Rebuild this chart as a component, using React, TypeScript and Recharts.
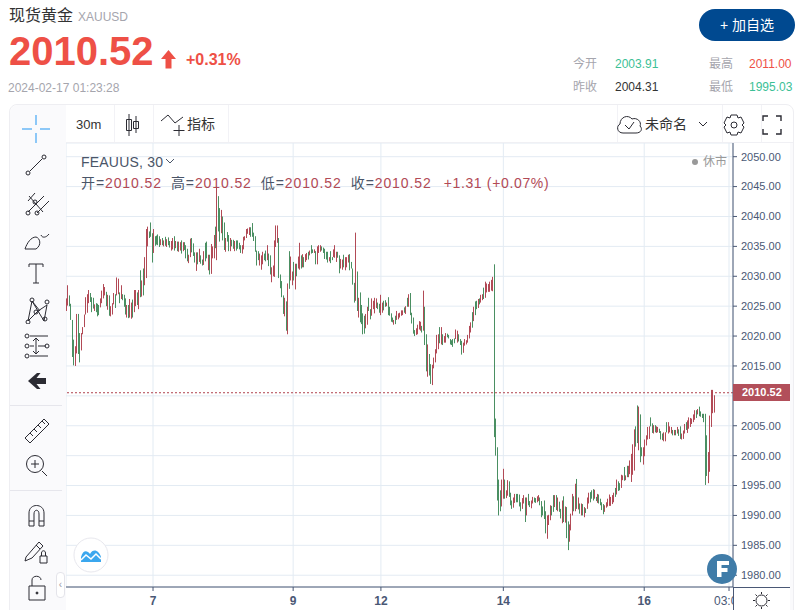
import { Bar, CartesianGrid, ComposedChart, ReferenceLine, XAxis, YAxis } from "recharts";

type Candle = [number, number, string]; // high, low, r = up / g = down

// 30m bars
const feb6to8: Candle[] = [
  [2026.3,2024.2,"r"],[2028.5,2025.1,"r"],[2026.8,2025.0,"g"],[2025.4,2022.7,"g"],[2022.7,2016.5,"g"],[2019.4,2015.1,"g"],[2018.3,2015.0,"r"],[2023.7,2017.1,"r"],
  [2023.7,2017.0,"g"],[2020.5,2015.6,"g"],[2020.5,2017.6,"r"],[2021.5,2020.3,"r"],[2023.6,2021.5,"r"],[2026.5,2023.6,"r"],[2027.0,2023.9,"r"],[2027.7,2025.5,"r"],
  [2027.2,2025.7,"g"],[2026.5,2024.0,"g"],[2026.4,2024.6,"g"],[2025.3,2024.2,"r"],[2025.5,2024.0,"g"],[2025.4,2023.3,"g"],[2025.2,2023.5,"g"],[2026.3,2024.8,"r"],
  [2027.6,2025.5,"r"],[2028.7,2026.3,"r"],[2028.2,2026.8,"r"],[2027.4,2025.0,"g"],[2026.9,2024.4,"r"],[2026.8,2023.4,"g"],[2025.0,2023.3,"r"],[2025.5,2023.6,"r"],
  [2027.2,2025.3,"r"],[2027.0,2024.7,"g"],[2029.8,2026.8,"r"],[2029.6,2027.0,"r"],[2027.3,2025.5,"g"],[2028.5,2026.2,"r"],[2027.0,2026.0,"g"],[2026.9,2024.9,"g"],
  [2026.3,2023.6,"g"],[2025.2,2023.1,"r"],[2025.2,2023.0,"g"],[2026.2,2023.1,"r"],[2025.6,2022.9,"r"],[2026.1,2023.1,"g"],[2027.7,2024.0,"r"],[2027.7,2025.0,"r"],
  [2027.3,2025.2,"g"],[2027.7,2024.5,"r"],[2031.0,2026.5,"g"],[2029.3,2026.6,"r"],[2031.3,2026.8,"g"],[2033.2,2028.5,"r"],[2037.9,2029.7,"r"],[2038.3,2035.0,"r"],
  [2037.5,2036.4,"g"],[2039.0,2036.6,"g"],[2037.2,2032.3,"g"],[2037.9,2033.9,"r"],[2036.7,2035.1,"g"],[2036.8,2035.3,"g"],[2037.0,2035.2,"g"],[2036.7,2034.9,"g"],
  [2036.2,2035.2,"r"],[2036.4,2035.2,"g"],[2036.0,2035.0,"r"],[2036.6,2035.1,"g"],[2036.2,2034.9,"r"],[2036.5,2035.2,"g"],[2035.9,2034.8,"g"],[2035.9,2034.3,"r"],
  [2036.4,2034.5,"r"],[2036.7,2034.3,"g"],[2035.9,2034.7,"r"],[2035.8,2034.2,"g"],[2035.8,2034.1,"r"],[2035.7,2034.3,"r"],[2036.0,2033.8,"g"],[2035.7,2034.2,"r"],
  [2035.7,2034.4,"g"],[2035.2,2033.0,"g"],[2034.6,2032.5,"g"],[2033.6,2032.2,"r"],[2036.3,2033.2,"r"],[2036.4,2034.0,"g"],[2035.5,2033.4,"g"],[2034.0,2032.3,"g"],
  [2034.0,2030.9,"r"],[2034.0,2032.0,"g"],[2034.6,2032.4,"r"],[2033.5,2032.1,"g"],[2032.8,2031.8,"g"],[2034.2,2031.9,"r"],[2035.6,2032.5,"g"],[2035.8,2033.0,"g"],
  [2033.6,2031.0,"r"],[2033.6,2030.3,"g"],[2035.4,2030.4,"r"],[2035.0,2033.0,"r"],[2036.9,2033.0,"r"],[2038.3,2034.7,"g"],[2045.0,2032.7,"r"],[2043.4,2037.5,"g"],
  [2041.4,2035.8,"g"],[2041.1,2037.2,"r"],[2040.0,2036.0,"g"],[2039.0,2034.4,"g"],[2036.4,2034.1,"r"],[2037.4,2035.8,"g"],[2036.9,2034.2,"g"],[2036.4,2034.2,"r"],
  [2036.1,2035.0,"g"],[2036.1,2034.6,"g"],
];

const feb8to12: Candle[] = [
  [2035.9,2034.2,"r"],[2036.0,2034.3,"g"],[2036.0,2034.6,"g"],[2035.6,2034.5,"g"],[2035.2,2033.9,"g"],[2035.2,2033.8,"r"],[2036.6,2034.5,"r"],[2036.7,2036.0,"r"],
  [2037.9,2036.4,"r"],[2038.0,2037.1,"r"],[2038.2,2036.9,"r"],[2038.2,2036.6,"g"],[2038.9,2036.6,"g"],[2037.3,2035.9,"g"],[2036.7,2034.1,"g"],[2034.3,2031.8,"g"],
  [2034.2,2032.7,"g"],[2033.8,2031.8,"r"],[2033.5,2031.1,"r"],[2034.1,2032.0,"r"],[2033.8,2032.7,"g"],[2034.3,2032.5,"g"],[2035.2,2032.7,"r"],[2033.8,2031.7,"g"],
  [2033.5,2030.3,"g"],[2031.5,2029.0,"r"],[2031.8,2030.0,"r"],[2036.0,2029.9,"r"],[2038.5,2034.9,"r"],[2038.5,2035.6,"r"],[2036.4,2029.7,"g"],[2030.3,2028.0,"g"],
  [2029.2,2026.5,"g"],[2026.8,2023.7,"g"],[2026.4,2023.3,"r"],[2025.8,2020.9,"g"],[2028.8,2020.3,"r"],[2034.2,2027.9,"g"],[2033.3,2029.3,"r"],[2030.8,2028.5,"r"],
  [2032.4,2029.3,"g"],[2032.1,2027.8,"r"],[2032.1,2030.0,"g"],[2033.3,2031.3,"r"],[2035.6,2031.1,"r"],[2033.5,2031.3,"g"],[2033.7,2031.5,"r"],[2033.2,2031.5,"g"],
  [2033.7,2032.4,"r"],[2033.9,2032.7,"r"],[2034.1,2032.8,"g"],[2034.3,2033.5,"r"],[2035.2,2033.8,"g"],[2034.5,2033.9,"g"],[2034.5,2033.9,"r"],[2034.2,2032.0,"g"],
  [2035.0,2032.0,"r"],[2035.2,2033.9,"r"],[2035.2,2034.1,"r"],[2035.0,2034.3,"g"],[2034.8,2033.9,"g"],[2034.6,2032.9,"g"],[2034.1,2032.8,"g"],[2034.1,2032.3,"g"],
  [2033.2,2032.5,"r"],[2034.2,2032.2,"g"],[2033.2,2032.7,"g"],[2034.5,2033.2,"r"],[2035.2,2033.1,"r"],[2034.1,2032.4,"r"],[2034.1,2033.1,"g"],[2033.5,2030.5,"g"],
  [2032.9,2031.3,"r"],[2032.8,2031.1,"r"],[2033.6,2031.5,"g"],[2033.2,2031.0,"r"],[2033.2,2031.5,"r"],[2033.6,2032.3,"r"],[2033.7,2031.0,"g"],[2032.4,2031.3,"g"],
  [2031.3,2028.6,"g"],
];

const feb12to13: Candle[] = [
  [2028.9,2025.6,"g"],[2037.3,2025.9,"r"],[2030.8,2024.2,"g"],[2026.4,2023.1,"r"],[2027.3,2022.3,"g"],[2025.2,2022.0,"g"],[2023.8,2020.3,"g"],[2023.4,2020.4,"g"],
  [2023.7,2021.3,"r"],[2024.9,2021.9,"r"],[2026.4,2024.2,"g"],[2024.5,2022.8,"g"],[2026.3,2023.4,"r"],[2025.9,2024.5,"r"],[2026.4,2023.8,"r"],[2026.3,2024.7,"r"],
  [2025.6,2024.5,"g"],[2025.4,2023.9,"g"],[2026.9,2023.5,"r"],[2025.6,2023.9,"r"],[2025.9,2024.3,"g"],[2026.0,2024.9,"g"],[2025.6,2025.0,"r"],[2026.5,2023.5,"g"],
  [2024.9,2023.4,"g"],[2023.8,2022.4,"g"],[2023.1,2022.3,"g"],[2022.7,2021.9,"r"],[2023.4,2022.0,"g"],[2024.2,2022.7,"r"],[2023.8,2022.8,"r"],[2023.9,2023.1,"r"],
  [2024.3,2023.4,"r"],[2024.3,2023.5,"r"],[2024.8,2023.9,"g"],[2025.0,2023.7,"r"],[2026.4,2024.9,"g"],[2027.0,2024.9,"r"],[2027.2,2023.5,"g"],[2023.9,2022.1,"g"],
  [2023.1,2020.4,"g"],[2021.0,2020.0,"g"],[2021.3,2020.2,"r"],[2021.9,2020.3,"r"],[2022.5,2021.1,"r"],[2022.4,2020.9,"r"],[2021.7,2020.6,"g"],[2027.6,2020.9,"r"],
  [2024.9,2018.5,"g"],[2020.3,2014.1,"g"],[2018.6,2013.2,"r"],[2017.0,2013.4,"g"],[2015.3,2012.0,"g"],[2015.2,2011.8,"r"],[2016.4,2014.6,"r"],[2017.8,2015.6,"r"],
  [2020.2,2017.1,"r"],[2020.3,2017.8,"r"],[2021.5,2018.8,"g"],[2021.5,2018.6,"r"],[2020.3,2018.5,"g"],[2020.0,2018.9,"r"],[2020.5,2018.9,"r"],[2020.4,2019.8,"g"],
  [2020.2,2019.6,"g"],[2019.5,2018.6,"g"],[2019.3,2018.5,"g"],[2019.5,2018.2,"g"],[2019.6,2018.8,"g"],[2021.1,2019.5,"r"],[2020.9,2018.9,"r"],[2020.3,2019.1,"g"],
  [2019.5,2018.5,"g"],[2019.2,2016.9,"g"],[2018.9,2017.2,"r"],[2019.5,2018.4,"r"],[2019.3,2018.6,"r"],[2020.2,2018.9,"r"],[2021.7,2019.6,"r"],[2022.3,2020.6,"r"],
  [2024.0,2021.4,"g"],[2024.9,2022.5,"r"],[2025.8,2023.5,"g"],[2025.9,2024.5,"g"],[2026.2,2024.7,"r"],[2026.3,2025.3,"g"],[2026.9,2025.6,"r"],[2027.0,2026.0,"r"],
  [2028.1,2026.2,"g"],[2029.1,2026.4,"r"],[2028.8,2027.3,"r"],[2028.7,2027.4,"r"],[2029.1,2027.4,"r"],[2029.4,2027.6,"r"],[2029.9,2027.5,"r"],[2032.0,2003.1,"g"],
];

const feb13to15: Candle[] = [
  [2006.2,2000.0,"g"],[2001.4,1992.5,"g"],[1996.0,1990.0,"g"],[1994.2,1990.7,"g"],[1996.0,1991.5,"r"],[1997.8,1992.8,"r"],[1996.0,1992.8,"g"],[1994.2,1992.9,"r"],
  [1995.9,1993.3,"r"],[1995.7,1993.1,"g"],[1993.8,1991.7,"g"],[1992.5,1991.1,"g"],[1993.0,1991.3,"r"],[1993.6,1992.1,"r"],[1993.6,1992.2,"g"],[1993.6,1992.2,"g"],
  [1993.5,1991.5,"g"],[1992.2,1990.7,"g"],[1992.9,1991.1,"r"],[1993.4,1992.0,"r"],[1993.0,1988.9,"g"],[1993.0,1990.0,"r"],[1993.6,1991.7,"g"],[1992.4,1991.4,"g"],
  [1992.5,1991.2,"r"],[1993.1,1992.0,"r"],[1993.0,1992.2,"g"],[1992.9,1992.1,"g"],[1993.2,1992.2,"r"],[1993.4,1992.4,"r"],[1993.0,1991.7,"g"],[1992.4,1989.7,"g"],
  [1991.5,1990.0,"g"],[1992.5,1989.4,"g"],[1990.7,1987.0,"g"],[1990.0,1986.1,"r"],[1990.1,1988.4,"r"],[1991.7,1989.2,"r"],[1991.6,1990.0,"g"],[1993.4,1990.6,"g"],
  [1993.4,1991.4,"r"],[1993.4,1990.9,"g"],[1993.0,1990.7,"r"],[1992.3,1990.6,"g"],[1991.1,1989.5,"g"],[1992.5,1988.7,"r"],[1993.2,1988.9,"g"],[1991.5,1988.8,"r"],[1991.4,1986.2,"g"],
  [1989.0,1984.2,"g"],[1988.5,1985.6,"r"],[1990.3,1987.5,"r"],[1993.6,1990.0,"r"],[1993.2,1990.7,"g"],[1995.3,1990.7,"r"],[1996.1,1991.1,"g"],[1993.0,1991.0,"r"],
  [1992.0,1990.3,"g"],[1992.0,1990.0,"r"],[1991.9,1990.0,"g"],[1991.4,1989.7,"r"],[1991.2,1990.4,"g"],[1993.0,1991.1,"r"],[1993.8,1992.0,"r"],[1993.9,1992.2,"g"],
  [1994.2,1992.8,"g"],[1994.4,1992.5,"g"],[1994.3,1992.8,"r"],[1993.1,1992.4,"g"],[1993.6,1992.1,"r"],[1993.5,1992.0,"g"],[1992.8,1991.7,"g"],[1992.2,1990.9,"g"],[1991.9,1990.2,"g"],
  [1991.7,1990.6,"r"],[1992.2,1991.3,"r"],[1992.8,1991.5,"r"],[1993.5,1991.6,"r"],[1993.1,1991.6,"r"],[1993.4,1991.9,"r"],[1993.8,1992.2,"r"],[1994.6,1993.1,"g"],[1996.0,1993.5,"r"],
  [1995.7,1994.1,"g"],[1995.4,1994.2,"g"],[1996.8,1994.6,"r"],[1996.7,1995.9,"r"],[1998.1,1995.8,"g"],[1996.7,1995.9,"r"],[1998.3,1996.4,"g"],[1998.3,1996.4,"r"],
  [1999.2,1996.9,"r"],[2000.3,1995.6,"r"],[2001.9,1996.8,"r"],[2004.4,1997.5,"r"],[2004.9,2001.5,"g"],[2008.4,2002.1,"g"],
];

const feb16: Candle[] = [
  [2008.2,2000.9,"r"],[2006.9,1998.9,"g"],[2001.4,1999.9,"g"],[2001.4,1998.5,"r"],[2002.7,1999.9,"r"],[2003.4,2001.7,"r"],[2004.8,2002.7,"r"],[2004.9,2002.8,"r"],
  [2006.4,2004.9,"g"],[2005.4,2003.8,"g"],[2005.1,2003.7,"r"],[2005.1,2003.9,"g"],[2004.9,2003.8,"r"],[2004.8,2003.9,"r"],[2004.5,2003.8,"g"],[2004.1,2002.7,"g"],
  [2003.7,2002.6,"g"],[2003.9,2002.4,"r"],[2003.9,2002.4,"r"],[2005.6,2003.9,"g"],[2005.6,2003.7,"r"],[2004.9,2003.9,"r"],[2004.8,2003.7,"r"],[2004.3,2003.4,"g"],
  [2004.3,2003.4,"r"],[2004.3,2003.4,"g"],[2004.8,2003.7,"r"],[2004.4,2003.3,"g"],[2004.9,2002.8,"g"],[2003.7,2002.7,"r"],[2004.2,2002.8,"r"],[2005.3,2003.7,"r"],[2005.6,2004.3,"g"],
  [2005.9,2003.8,"r"],[2006.4,2004.5,"r"],[2006.3,2004.8,"r"],[2006.2,2005.3,"r"],[2006.9,2005.6,"r"],[2007.6,2006.0,"r"],[2007.6,2006.3,"g"],[2007.8,2006.9,"r"],[2008.2,2006.6,"g"],
  [2007.4,2006.5,"g"],[2007.0,2006.3,"g"],[2007.0,2005.6,"g"],[2007.0,1995.1,"g"],[2003.4,1996.6,"g"],[2000.6,1995.4,"r"],[2006.7,1997.3,"r"],[2011.0,2004.8,"r"],[2011.0,2007.1,"r"],
  [2010.1,2007.2,"r"],
];

const priceTicks = [1980, 1985, 1990, 1995, 2000, 2005, 2010, 2015, 2020, 2025, 2030, 2035, 2040, 2045, 2050];
const timeTicks = [58.5, 153.5, 213, 296, 391.5, 449];
const timeLabels = ["7", "9", "12", "14", "16", "03:00"];
const lastPrice = 2010.52;
const ohlc = [
  ["开", "2010.52"],
  ["高", "2010.52"],
  ["低", "2010.52"],
  ["收", "2010.52"],
];

const rows = [...feb6to8, ...feb8to12, ...feb12to13, ...feb13to15, ...feb16].map((c, i) => ({
  slot: i,
  range: [c[1], c[0]],
  dir: c[2],
}));

const SANS = '"Liberation Sans", Arial, "Noto Sans CJK SC", sans-serif';
const UP = "#b24a56";
const DOWN = "#4a8f62";
const AXIS = "#4a5875";
const ICON = "#2b2b33";

function T({ x, y, size = 12, color = "#999", bold, children, spacing }: any) {
  return (
    <div
      style={{
        position: "absolute",
        left: x,
        top: y,
        fontSize: size,
        color,
        fontWeight: bold ? 700 : 400,
        lineHeight: 1,
        whiteSpace: "nowrap",
        letterSpacing: spacing,
      }}
    >
      {children}
    </div>
  );
}

function Icon({ x, y, w = 30, h = 30, children }: any) {
  return (
    <svg
      style={{ position: "absolute", left: x, top: y }}
      width={w}
      height={h}
      viewBox={`0 0 ${w} ${h}`}
      fill="none"
      stroke={ICON}
      strokeWidth={1}
    >
      {children}
    </svg>
  );
}

function TimeTick({ x, y, payload }: any) {
  const i = timeTicks.indexOf(payload.value);
  const label = timeLabels[i];
  const clipped = label.length > 2;
  return (
    <g>
      <clipPath id={`t${i}`}>
        <rect x={x - 30} y={y - 2} width={clipped ? 667 - (x - 30) : 60} height={24} />
      </clipPath>
      <text
        x={x}
        y={y + 12}
        textAnchor="middle"
        fontSize={12}
        fontWeight={clipped ? 400 : 700}
        fill={AXIS}
        fontFamily={SANS}
        clipPath={`url(#t${i})`}
      >
        {label}
      </text>
    </g>
  );
}

// one pixel wide, snapped so the bars stay crisp
function CandleBar({ x, y, height, payload }: any) {
  return <rect x={Math.round(x)} y={y} width={1} height={height} fill={payload.dir === "r" ? UP : DOWN} />;
}

function Stat({ x, y, gap = 42, label, value, color }: any) {
  return (
    <>
      <T x={x} y={y} color="#a5a5ad">{label}</T>
      <T x={x + gap} y={y} color={color}>{value}</T>
    </>
  );
}

export default function App() {
  return (
    <div style={{ position: "absolute", left: 0, top: 0, width: 807, height: 610, overflow: "hidden", background: "#fff", fontFamily: SANS }}>
      {/* quote header */}
      <T x={9} y={8} size={16} color="#333">现货黄金</T>
      <T x={78} y={11} size={12} color="#a5a5ad">XAUUSD</T>
      <T x={9} y={31} size={40} color="#ee5046" bold>2010.52</T>
      <svg style={{ position: "absolute", left: 160, top: 50 }} width={17} height={19}>
        <path d="M8.5 0 L16 9 H11.5 V18.5 H5.5 V9 H1 Z" fill="#ee5046" />
      </svg>
      <T x={186} y={52} size={16} color="#ee5046" bold>+0.31%</T>
      <T x={8} y={82} color="#a5a5ad">2024-02-17 01:23:28</T>
      <div style={{ position: "absolute", left: 699, top: 9, width: 96, height: 32, borderRadius: 16, background: "#004990", color: "#fff", fontSize: 14, lineHeight: "32px", textAlign: "center" }}>
        + 加自选
      </div>
      <Stat x={573} y={58} label="今开" value="2003.91" color="#3cbf96" />
      <Stat x={709} y={58} gap={40} label="最高" value="2011.00" color="#ee5046" />
      <Stat x={573} y={81} label="昨收" value="2004.31" color="#333" />
      <Stat x={709} y={81} gap={40} label="最低" value="1995.03" color="#3cbf96" />

      {/* chart frame */}
      <div style={{ position: "absolute", left: 9, top: 104, width: 785, height: 520, border: "1px solid #eeeef2", borderRadius: 8, background: "#fff", boxSizing: "border-box" }} />
      <div style={{ position: "absolute", left: 10, top: 105, width: 56, height: 505, background: "#fafafc", borderRadius: "8px 0 0 0" }} />
      <div style={{ position: "absolute", left: 790, top: 143, width: 3, height: 467, background: "#fafafc" }} />
      <div style={{ position: "absolute", left: 66, top: 142, width: 727, height: 1, background: "#f0f0f4" }} />
      {[114, 153, 228, 617, 722, 761].map((x) => (
        <div key={x} style={{ position: "absolute", left: x, top: 105, width: 1, height: 37, background: "#f2f2f6" }} />
      ))}

      {/* top toolbar */}
      <T x={76} y={118} size={13} color="#333">30m</T>
      <Icon x={120} y={112} w={24} h={26}>
        <path d="M9 2 V24 M6.500 7.500 H11.500 V18.500 H6.500 Z M16 4 V21 M13.500 9.500 H18.500 V16.500 H13.500 Z" />
      </Icon>
      <Icon x={160} y={114} w={28} h={24}>
        <path d="M1 7 L8 1 L15 9 L23 3 M19 11 V22 M13.500 16.500 H24.500" />
      </Icon>
      <T x={187} y={117} size={14} color="#333">指标</T>
      <Icon x={616} y={111} w={27} h={27}>
        <path d="M7 22 C1 22 0 15 4 13 C4 6 12 3 16 8 C21 6 26 11 24 15 C27 18 25 22 20 22 Z M9 14 L13 18 L18 11" />
      </Icon>
      <T x={645} y={117} size={14} color="#333">未命名</T>
      <Icon x={697} y={118} w={12} h={12}><path d="M2 4 L6 8 L10 4" /></Icon>
      <Icon x={722} y={113} w={24} h={24}>
        <path d="M9 2 H15 L16 5 L19 4 L22 10 L20 12 L22 14 L19 20 L16 19 L15 22 H9 L8 19 L5 20 L2 14 L4 12 L2 10 L5 4 L8 5 Z" />
        <circle cx={12} cy={12} r={3} />
      </Icon>
      <Icon x={761} y={114} w={22} h={22}>
        <path d="M2 7 V2 H7 M15 2 H20 V7 M20 15 V20 H15 M7 20 H2 V15" strokeWidth={1.4} />
      </Icon>

      {/* left toolbar */}
      <Icon x={21} y={114}>
        <path d="M15 1 V11 M15 19 V29 M1 15 H11 M19 15 H29" stroke="#2196f3" />
      </Icon>
      <Icon x={21} y={150}>
        <path d="M9 21 L21 9" />
        <circle cx={7} cy={23} r={2} />
        <circle cx={23} cy={7} r={2} />
      </Icon>
      <Icon x={21} y={187}>
        <path d="M7 25 L23 9 M8 9 L22 25 M16 26 L28 14 M7 14 L14 6" />
        <circle cx={7} cy={26} r={2} />
        <circle cx={16} cy={26} r={2} />
        <circle cx={14} cy={15} r={2} />
      </Icon>
      <Icon x={21} y={223}>
        <path d="M4 26 H15 C21 22 19 15 15 14 C10 14 6 20 4 26 M20 12 C21 15 25 15 28 11" />
      </Icon>
      <Icon x={21} y={258}>
        <path d="M8 6 V9 M8 6 H22 V9 M15 6 V25 M12 25 H18" />
      </Icon>
      <Icon x={21} y={294}>
        <path d="M7 27 L11 7 L23 27 L26 11 M11 7 L19 17 M26 11 L17 17 L7 27" />
        <circle cx={7} cy={28} r={2} />
        <circle cx={11} cy={6} r={2} />
        <circle cx={26} cy={8} r={2} />
        <circle cx={24} cy={25} r={2} />
        <circle cx={15} cy={18} r={2} />
      </Icon>
      <Icon x={21} y={331}>
        <path d="M9 5 H27 M9 15 H13 M17 15 H25 M9 25 H27 M15 8 V22 M12 10 L15 7 L18 10 M12 20 L15 23 L18 20" />
        <circle cx={6} cy={5} r={2} />
        <circle cx={6} cy={15} r={2} />
        <circle cx={6} cy={25} r={2} />
        <circle cx={26} cy={15} r={2} />
      </Icon>
      <Icon x={21} y={366}>
        <path d="M7 15 L16 7 H19.500 L15.500 12 H25 V18 H15.500 L19.500 23 H16 Z" fill={ICON} stroke="none" />
      </Icon>
      <div style={{ position: "absolute", left: 10, top: 405, width: 52, height: 1, background: "#e6e6ec" }} />
      <Icon x={21} y={415}>
        <path d="M4 23 L23 4 L28 9 L9 28 Z M9 18 L12 21 M13 14 L16 17 M17 10 L20 13 M21 6 L24 9" />
      </Icon>
      <Icon x={21} y={450}>
        <circle cx={14} cy={14} r={8.500} />
        <path d="M14 10 V18 M10 14 H18 M21 21 L26 26" />
      </Icon>
      <div style={{ position: "absolute", left: 10, top: 490, width: 52, height: 1, background: "#e6e6ec" }} />
      <Icon x={21} y={500}>
        <path d="M8 26 V13 C8 3 23 3 23 13 V26 H18 V14 C18 9 13 9 13 14 V26 Z M8 21 H13 M18 21 H23" />
      </Icon>
      <Icon x={21} y={535}>
        <path d="M5 22 L18 7 L22 11 L11 23 L4 26 Z M15 10 L19 14" />
        <path d="M19 21 H26 V28 H19 Z M20.500 21 V18 C20.500 15 24.500 15 24.500 18 V21" />
      </Icon>
      <Icon x={21} y={572}>
        <path d="M8 14 H24 V28 H8 Z M11 14 V8 C11 3 20 3 20 8" />
        <circle cx={16} cy={21} r={1} fill={ICON} />
      </Icon>
      <div style={{ position: "absolute", left: 56, top: 572, width: 7, height: 24, border: "1px solid #e4e4ea", borderRadius: 4, background: "#fff", color: "#99a", fontSize: 10, lineHeight: "24px", textAlign: "center" }}>‹</div>

      {/* price chart */}
      <div style={{ position: "absolute", left: 66, top: 143 }}>
        <ComposedChart width={724} height={467} data={rows} margin={{ top: 0, right: 0, bottom: 0, left: 0 }}>
          <CartesianGrid stroke="#e3ebf3" strokeWidth={1} />
          <XAxis
            dataKey="slot"
            type="number"
            domain={[-0.5, 451.7]}
            allowDataOverflow
            ticks={timeTicks}
            height={23}
            stroke={AXIS}
            tickSize={4}
            interval={0}
            tick={<TimeTick />}
          />
          <YAxis
            orientation="right"
            type="number"
            domain={[1978.03, 2052.29]}
            allowDataOverflow
            ticks={priceTicks}
            width={57}
            stroke={AXIS}
            tickSize={4}
            tickMargin={4}
            interval={0}
            tickFormatter={(v: number) => (v === 2010 ? "" : v.toFixed(2))}
            tick={{ fill: AXIS, fontSize: 11, fontFamily: SANS }}
          />
          <ReferenceLine y={lastPrice} stroke="#b0434f" strokeDasharray="2 2" />
          <Bar dataKey="range" barSize={1} isAnimationActive={false} shape={<CandleBar />} />
        </ComposedChart>
      </div>

      {/* axis tails and last price tag */}
      <div style={{ position: "absolute", left: 733, top: 587, width: 1, height: 23, background: AXIS }} />
      <div style={{ position: "absolute", left: 733, top: 587, width: 57, height: 1, background: AXIS }} />
      <div style={{ position: "absolute", left: 733, top: 384, width: 57, height: 17, background: "#b24f5a", color: "#fff", fontSize: 11, fontWeight: 700, lineHeight: "17px", paddingLeft: 9, boxSizing: "border-box" }}>
        2010.52
      </div>

      {/* chart legend */}
      <T x={81} y={155} size={14} color="#4a5568" spacing={0.2}>FEAUUS, 30</T>
      <Icon x={165} y={156} w={10} h={10}><path d="M1 3 L5 7 L9 3" stroke="#4a5568" /></Icon>
      <div style={{ position: "absolute", left: 81, top: 176, fontSize: 14, lineHeight: 1, whiteSpace: "nowrap", color: "#4a5568", letterSpacing: 0.9 }}>
        {ohlc.map(([k, v]) => (
          <span key={k} style={{ marginRight: 9 }}>
            {k}=<span style={{ color: UP }}>{v}</span>
          </span>
        ))}
        <span style={{ color: UP, marginLeft: 3, letterSpacing: 0.65 }}>+1.31 (+0.07%)</span>
      </div>
      <div style={{ position: "absolute", left: 692, top: 159, width: 6, height: 6, borderRadius: 3, background: "#999" }} />
      <T x={703} y={156} size={12} color="#999">休市</T>

      {/* badges */}
      <svg style={{ position: "absolute", left: 73, top: 537 }} width={36} height={36}>
        <circle cx={18} cy={18} r={17} fill="#fff" stroke="#e8e8ee" />
        <path d="M8 25 V20 C10 13 14 13 17 17 C20 11 26 13 28 20 V25 Z" fill="#3ba7ee" />
        <path d="M8 23 L13 18 L18 22 L23 17 L28 22" stroke="#fff" strokeWidth={1.500} fill="none" />
      </svg>
      <svg style={{ position: "absolute", left: 707, top: 554 }} width={30} height={30}>
        <circle cx={15} cy={15} r={15} fill="#407ca8" />
        <path d="M10 7 H22 V11 H14.500 V14 H20.500 V18 H14.500 V23 H10 Z" fill="#fff" />
      </svg>
      <Icon x={753} y={592} w={17} h={17}>
        <circle cx={8.500} cy={8.500} r={5.500} />
        <path d="M8.500 0 V2 M8.500 15 V17 M0 8.500 H2 M15 8.500 H17 M2.500 2.500 L4 4 M13 13 L14.500 14.500 M2.500 14.500 L4 13 M13 4 L14.500 2.500" />
      </Icon>
    </div>
  );
}
